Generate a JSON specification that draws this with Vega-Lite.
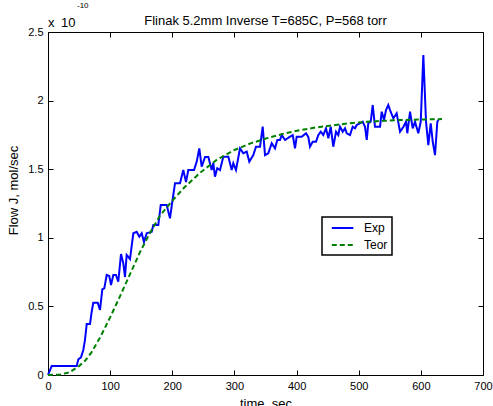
{
"$schema":"https://vega.github.io/schema/vega-lite/v6.json",
"width":435,"height":343,"autosize":"none",
"padding":{"left":48,"top":32,"right":10,"bottom":31},
"background":"white",
"config":{"font":"Liberation Sans","view":{"stroke":"black","strokeWidth":1},
 "axis":{"grid":false,"domain":false,"tickColor":"black","tickSize":-5,"tickWidth":1,"labelColor":"black","labelFontSize":11,"labelFont":"Liberation Sans","titleFont":"Liberation Sans","titleFontSize":13,"titleFontWeight":"normal","titleColor":"black","labelFlush":false,"labelOverlap":false,"labelPadding":10},
 "legend":{"orient":"none","legendX":274,"legendY":185,"strokeColor":"black","strokeWidth":1.5,"fillColor":"white","padding":4,"symbolType":"M-0.2,0L3.4,0","symbolSize":144,"symbolStrokeWidth":2,"labelFontSize":12,"labelColor":"black","labelFont":"Liberation Sans","labelOffset":24,"rowPadding":4}},
"title":{"text":"Flinak 5.2mm Inverse T=685C, P=568 torr","fontSize":13,"fontWeight":"normal","font":"Liberation Sans","color":"black","anchor":"middle","baseline":"alphabetic","offset":12,"dy":48},
"datasets":{
"exp":[
{"time":0,"flow":0,"series":"Exp"},{"time":6.0,"flow":0.066,"series":"Exp"},{"time":46.2,"flow":0.066,"series":"Exp"},{"time":48.8,"flow":0.114,"series":"Exp"},{"time":53.1,"flow":0.129,"series":"Exp"},{"time":56.8,"flow":0.182,"series":"Exp"},{"time":59.5,"flow":0.255,"series":"Exp"},{"time":62.3,"flow":0.372,"series":"Exp"},{"time":67.6,"flow":0.372,"series":"Exp"},{"time":70.3,"flow":0.461,"series":"Exp"},{"time":72.9,"flow":0.527,"series":"Exp"},{"time":80.0,"flow":0.527,"series":"Exp"},{"time":83.7,"flow":0.474,"series":"Exp"},{"time":87.4,"flow":0.625,"series":"Exp"},{"time":90.6,"flow":0.632,"series":"Exp"},{"time":94.5,"flow":0.729,"series":"Exp"},{"time":98.6,"flow":0.722,"series":"Exp"},{"time":101.4,"flow":0.656,"series":"Exp"},{"time":105.1,"flow":0.729,"series":"Exp"},{"time":109.4,"flow":0.729,"series":"Exp"},{"time":113.1,"flow":0.68,"series":"Exp"},{"time":117.5,"flow":0.882,"series":"Exp"},{"time":121.2,"flow":0.814,"series":"Exp"},{"time":123.9,"flow":0.714,"series":"Exp"},{"time":126.6,"flow":0.875,"series":"Exp"},{"time":132.0,"flow":0.845,"series":"Exp"},{"time":137.3,"flow":1.033,"series":"Exp"},{"time":142.7,"flow":1.044,"series":"Exp"},{"time":146.9,"flow":1.008,"series":"Exp"},{"time":150.8,"flow":1.033,"series":"Exp"},{"time":154.5,"flow":0.969,"series":"Exp"},{"time":158.8,"flow":1.033,"series":"Exp"},{"time":166.9,"flow":1.044,"series":"Exp"},{"time":169.5,"flow":1.093,"series":"Exp"},{"time":177.5,"flow":1.093,"series":"Exp"},{"time":181.4,"flow":1.239,"series":"Exp"},{"time":191.0,"flow":1.239,"series":"Exp"},{"time":196.3,"flow":1.142,"series":"Exp"},{"time":201.6,"flow":1.312,"series":"Exp"},{"time":204.4,"flow":1.397,"series":"Exp"},{"time":212.4,"flow":1.397,"series":"Exp"},{"time":217.7,"flow":1.494,"series":"Exp"},{"time":222.1,"flow":1.407,"series":"Exp"},{"time":225.8,"flow":1.494,"series":"Exp"},{"time":235.0,"flow":1.494,"series":"Exp"},{"time":239.3,"flow":1.555,"series":"Exp"},{"time":243.5,"flow":1.652,"series":"Exp"},{"time":247.3,"flow":1.518,"series":"Exp"},{"time":252.7,"flow":1.589,"series":"Exp"},{"time":258.0,"flow":1.589,"series":"Exp"},{"time":263.4,"flow":1.494,"series":"Exp"},{"time":266.0,"flow":1.545,"series":"Exp"},{"time":268.7,"flow":1.445,"series":"Exp"},{"time":272.4,"flow":1.507,"series":"Exp"},{"time":276.8,"flow":1.494,"series":"Exp"},{"time":282.1,"flow":1.591,"series":"Exp"},{"time":290.2,"flow":1.591,"series":"Exp"},{"time":295.6,"flow":1.494,"series":"Exp"},{"time":298.2,"flow":1.543,"series":"Exp"},{"time":302.5,"flow":1.494,"series":"Exp"},{"time":309.0,"flow":1.652,"series":"Exp"},{"time":314.3,"flow":1.616,"series":"Exp"},{"time":319.8,"flow":1.628,"series":"Exp"},{"time":323.9,"flow":1.555,"series":"Exp"},{"time":330.4,"flow":1.603,"series":"Exp"},{"time":334.7,"flow":1.664,"series":"Exp"},{"time":341.2,"flow":1.664,"series":"Exp"},{"time":345.5,"flow":1.81,"series":"Exp"},{"time":349.2,"flow":1.603,"series":"Exp"},{"time":354.5,"flow":1.616,"series":"Exp"},{"time":360.0,"flow":1.689,"series":"Exp"},{"time":365.3,"flow":1.652,"series":"Exp"},{"time":369.0,"flow":1.713,"series":"Exp"},{"time":373.3,"flow":1.713,"series":"Exp"},{"time":376.1,"flow":1.749,"series":"Exp"},{"time":381.4,"flow":1.713,"series":"Exp"},{"time":389.4,"flow":1.737,"series":"Exp"},{"time":393.8,"flow":1.749,"series":"Exp"},{"time":397.5,"flow":1.652,"series":"Exp"},{"time":400.2,"flow":1.737,"series":"Exp"},{"time":408.3,"flow":1.737,"series":"Exp"},{"time":415.2,"flow":1.762,"series":"Exp"},{"time":418.9,"flow":1.735,"series":"Exp"},{"time":421.6,"flow":1.664,"series":"Exp"},{"time":426.0,"flow":1.7,"series":"Exp"},{"time":431.3,"flow":1.7,"series":"Exp"},{"time":435.0,"flow":1.749,"series":"Exp"},{"time":438.9,"flow":1.773,"series":"Exp"},{"time":443.0,"flow":1.749,"series":"Exp"},{"time":447.4,"flow":1.798,"series":"Exp"},{"time":451.1,"flow":1.725,"series":"Exp"},{"time":454.9,"flow":1.81,"series":"Exp"},{"time":459.1,"flow":1.664,"series":"Exp"},{"time":463.5,"flow":1.773,"series":"Exp"},{"time":467.2,"flow":1.749,"series":"Exp"},{"time":469.9,"flow":1.81,"series":"Exp"},{"time":474.3,"flow":1.773,"series":"Exp"},{"time":478.0,"flow":1.798,"series":"Exp"},{"time":480.7,"flow":1.762,"series":"Exp"},{"time":486.0,"flow":1.749,"series":"Exp"},{"time":490.3,"flow":1.81,"series":"Exp"},{"time":494.0,"flow":1.798,"series":"Exp"},{"time":496.8,"flow":1.822,"series":"Exp"},{"time":502.1,"flow":1.835,"series":"Exp"},{"time":506.4,"flow":1.846,"series":"Exp"},{"time":510.1,"flow":1.81,"series":"Exp"},{"time":512.9,"flow":1.713,"series":"Exp"},{"time":515.4,"flow":1.835,"series":"Exp"},{"time":519.3,"flow":1.846,"series":"Exp"},{"time":522.5,"flow":1.968,"series":"Exp"},{"time":526.2,"flow":1.81,"series":"Exp"},{"time":534.3,"flow":1.81,"series":"Exp"},{"time":537.0,"flow":1.919,"series":"Exp"},{"time":540.7,"flow":1.859,"series":"Exp"},{"time":543.9,"flow":1.931,"series":"Exp"},{"time":547.6,"flow":1.968,"series":"Exp"},{"time":550.4,"flow":1.931,"series":"Exp"},{"time":555.7,"flow":1.871,"series":"Exp"},{"time":561.1,"flow":1.907,"series":"Exp"},{"time":566.5,"flow":1.773,"series":"Exp"},{"time":571.8,"flow":1.808,"series":"Exp"},{"time":576.1,"flow":1.846,"series":"Exp"},{"time":578.2,"flow":1.762,"series":"Exp"},{"time":582.6,"flow":1.919,"series":"Exp"},{"time":586.9,"flow":1.798,"series":"Exp"},{"time":590.6,"flow":1.846,"series":"Exp"},{"time":595.9,"flow":1.762,"series":"Exp"},{"time":599.8,"flow":1.846,"series":"Exp"},{"time":604.0,"flow":2.332,"series":"Exp"},{"time":608.3,"flow":1.846,"series":"Exp"},{"time":612.0,"flow":1.676,"series":"Exp"},{"time":615.9,"flow":1.835,"series":"Exp"},{"time":619.1,"flow":1.7,"series":"Exp"},{"time":622.8,"flow":1.603,"series":"Exp"},{"time":626.5,"flow":1.846,"series":"Exp"},{"time":628.4,"flow":1.859,"series":"Exp"}
],
"teor":[
{"time":0,"flow":0,"series":"Teor"},{"time":20,"flow":0.004,"series":"Teor"},{"time":35,"flow":0.02,"series":"Teor"},{"time":50,"flow":0.065,"series":"Teor"},{"time":60,"flow":0.105,"series":"Teor"},{"time":70,"flow":0.165,"series":"Teor"},{"time":84,"flow":0.275,"series":"Teor"},{"time":100,"flow":0.42,"series":"Teor"},{"time":116,"flow":0.575,"series":"Teor"},{"time":132,"flow":0.735,"series":"Teor"},{"time":148,"flow":0.895,"series":"Teor"},{"time":164,"flow":1.035,"series":"Teor"},{"time":180,"flow":1.16,"series":"Teor"},{"time":200,"flow":1.27,"series":"Teor"},{"time":220,"flow":1.37,"series":"Teor"},{"time":245,"flow":1.475,"series":"Teor"},{"time":272,"flow":1.57,"series":"Teor"},{"time":300,"flow":1.64,"series":"Teor"},{"time":327,"flow":1.69,"series":"Teor"},{"time":354,"flow":1.728,"series":"Teor"},{"time":380,"flow":1.76,"series":"Teor"},{"time":406,"flow":1.785,"series":"Teor"},{"time":432,"flow":1.805,"series":"Teor"},{"time":459,"flow":1.82,"series":"Teor"},{"time":486,"flow":1.835,"series":"Teor"},{"time":513,"flow":1.845,"series":"Teor"},{"time":540,"flow":1.853,"series":"Teor"},{"time":566,"flow":1.858,"series":"Teor"},{"time":600,"flow":1.862,"series":"Teor"},{"time":634,"flow":1.865,"series":"Teor"}
]},
"layer":[
{"data":{"name":"exp"},"mark":{"type":"line","strokeWidth":2},
 "encoding":{
  "x":{"field":"time","type":"quantitative","scale":{"domain":[0,700],"nice":false},"axis":{"orient":"bottom","values":[0,100,200,300,400,500,600,700],"title":"time, sec","titlePadding":6}},
  "y":{"field":"flow","type":"quantitative","scale":{"domain":[0,2.5],"nice":false},"axis":{"orient":"left","values":[0,0.5,1,1.5,2,2.5],"format":"~g","title":"Flow J, mol/sec","titleX":-35,"titleY":158,"titleBaseline":"middle"}},
  "color":{"field":"series","type":"nominal","scale":{"domain":["Exp","Teor"],"range":["#0000ff","#008000"]},"legend":{"title":null}},
  "strokeDash":{"field":"series","type":"nominal","scale":{"domain":["Exp","Teor"],"range":[[1,0],[5,3]]},"legend":{"title":null}}}},
{"data":{"name":"teor"},"mark":{"type":"line","strokeWidth":2},
 "encoding":{
  "x":{"field":"time","type":"quantitative","scale":{"domain":[0,700],"nice":false},"axis":{"orient":"top","values":[0,100,200,300,400,500,600,700],"labels":false,"title":null}},
  "y":{"field":"flow","type":"quantitative","scale":{"domain":[0,2.5],"nice":false},"axis":{"orient":"right","values":[0,0.5,1,1.5,2,2.5],"labels":false,"title":null}},
  "color":{"field":"series","type":"nominal","scale":{"domain":["Exp","Teor"],"range":["#0000ff","#008000"]},"legend":{"title":null}},
  "strokeDash":{"field":"series","type":"nominal","scale":{"domain":["Exp","Teor"],"range":[[1,0],[5,3]]},"legend":{"title":null}}}},
{"data":{"values":[{"label":"x\u200210"}]},"mark":{"type":"text","align":"left","baseline":"alphabetic","fontSize":13,"font":"Liberation Sans","color":"black","dy":-5},
 "encoding":{"x":{"datum":0,"type":"quantitative","axis":null},"y":{"datum":2.5,"type":"quantitative","axis":null},"text":{"field":"label"}}},
{"data":{"values":[{"label":"-10"}]},"mark":{"type":"text","align":"left","baseline":"alphabetic","fontSize":8,"font":"Liberation Sans","color":"black","dx":29,"dy":-24},
 "encoding":{"x":{"datum":0,"type":"quantitative","axis":null},"y":{"datum":2.5,"type":"quantitative","axis":null},"text":{"field":"label"}}}
],
"resolve":{"axis":{"x":"independent","y":"independent"}}
}
